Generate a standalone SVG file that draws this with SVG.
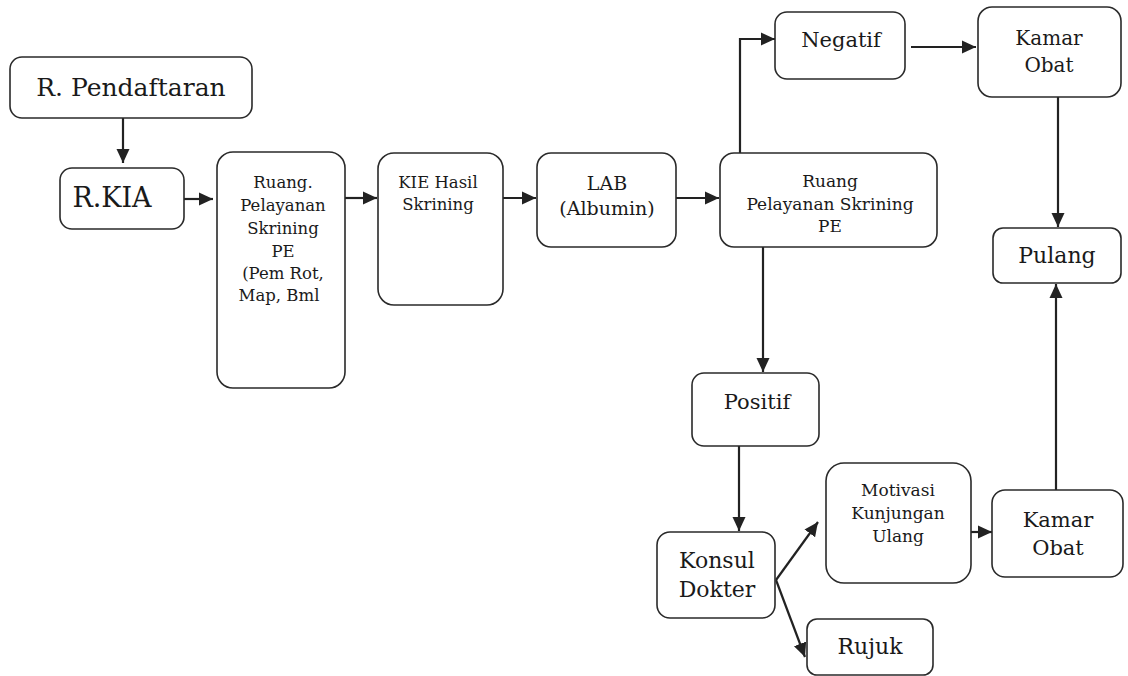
<svg xmlns="http://www.w3.org/2000/svg" width="1128" height="676" viewBox="0 0 1128 676">
<style>
.box{fill:#fff;stroke:#2a2a2a;stroke-width:1.6}
.t{font-family:"DejaVu Serif","Liberation Serif",serif;fill:#1a1a1a;text-anchor:middle}
.c{fill:none;stroke:#222;stroke-width:2.2}
</style>
<defs>
<marker id="ah" markerUnits="userSpaceOnUse" markerWidth="16" markerHeight="16" viewBox="0 0 16 16" refX="14" refY="8" orient="auto">
<path d="M0,1.5 L14,8 L0,14.5 Z" fill="#222"/>
</marker>
</defs>
<rect width="1128" height="676" fill="#fff"/>
<g id="connectors">
<line class="c" x1="123" y1="118" x2="123" y2="163" marker-end="url(#ah)"/>
<line class="c" x1="184" y1="199" x2="213" y2="199" marker-end="url(#ah)"/>
<line class="c" x1="345" y1="198" x2="377" y2="198" marker-end="url(#ah)"/>
<line class="c" x1="503" y1="198" x2="536" y2="198" marker-end="url(#ah)"/>
<line class="c" x1="676" y1="198" x2="719" y2="198" marker-end="url(#ah)"/>
<polyline class="c" points="740,153 740,39 775,39" marker-end="url(#ah)"/>
<line class="c" x1="911" y1="47" x2="976" y2="47" marker-end="url(#ah)"/>
<line class="c" x1="1058" y1="97" x2="1058" y2="227" marker-end="url(#ah)"/>
<line class="c" x1="1056" y1="490" x2="1056" y2="284" marker-end="url(#ah)"/>
<line class="c" x1="763" y1="247" x2="763" y2="372" marker-end="url(#ah)"/>
<line class="c" x1="739" y1="446" x2="739" y2="531" marker-end="url(#ah)"/>
<line class="c" x1="776" y1="580" x2="818" y2="522" marker-end="url(#ah)"/>
<line class="c" x1="776" y1="580" x2="805" y2="657" marker-end="url(#ah)"/>
<line class="c" x1="971" y1="532" x2="992" y2="532" marker-end="url(#ah)"/>
</g>
<g id="n-pendaftaran">
<rect class="box" x="10" y="57" width="242" height="61" rx="12"/>
<text class="t" x="131" y="96" font-size="25">R. Pendaftaran</text>
</g>
<g id="n-rkia">
<rect class="box" x="60" y="168" width="124" height="61" rx="12"/>
<text class="t" x="112" y="207" font-size="27">R.KIA</text>
</g>
<g id="n-ruang1">
<rect class="box" x="217" y="152" width="128" height="236" rx="16"/>
<text class="t" font-size="16.5"><tspan x="283" y="188">Ruang.</tspan><tspan x="283" y="211">Pelayanan</tspan><tspan x="283" y="234">Skrining</tspan><tspan x="283" y="257">PE</tspan><tspan x="283" y="279">(Pem Rot,</tspan><tspan x="279" y="301">Map, Bml</tspan></text>
</g>
<g id="n-kie">
<rect class="box" x="378" y="153" width="125" height="152" rx="16"/>
<text class="t" font-size="16.5"><tspan x="438" y="188">KIE Hasil</tspan><tspan x="438" y="210">Skrining</tspan></text>
</g>
<g id="n-lab">
<rect class="box" x="537" y="153" width="139" height="94" rx="14"/>
<text class="t" font-size="19"><tspan x="607" y="190">LAB</tspan><tspan x="607" y="215">(Albumin)</tspan></text>
</g>
<g id="n-ruang2">
<rect class="box" x="720" y="153" width="217" height="94" rx="14"/>
<text class="t" font-size="17"><tspan x="830" y="187">Ruang</tspan><tspan x="830" y="210">Pelayanan Skrining</tspan><tspan x="830" y="232">PE</tspan></text>
</g>
<g id="n-negatif">
<rect class="box" x="775" y="12" width="130" height="67" rx="12"/>
<text class="t" x="841" y="47" font-size="21">Negatif</text>
</g>
<g id="n-kamar1">
<rect class="box" x="978" y="7" width="143" height="90" rx="14"/>
<text class="t" font-size="20"><tspan x="1049" y="45">Kamar</tspan><tspan x="1049" y="72">Obat</tspan></text>
</g>
<g id="n-pulang">
<rect class="box" x="993" y="228" width="128" height="55" rx="10"/>
<text class="t" x="1057" y="263" font-size="22">Pulang</text>
</g>
<g id="n-positif">
<rect class="box" x="692" y="373" width="127" height="73" rx="12"/>
<text class="t" x="757" y="409" font-size="21">Positif</text>
</g>
<g id="n-konsul">
<rect class="box" x="657" y="532" width="118" height="86" rx="13"/>
<text class="t" font-size="22"><tspan x="717" y="568">Konsul</tspan><tspan x="717" y="597">Dokter</tspan></text>
</g>
<g id="n-motivasi">
<rect class="box" x="826" y="463" width="145" height="120" rx="18"/>
<text class="t" font-size="17"><tspan x="898" y="496">Motivasi</tspan><tspan x="898" y="519">Kunjungan</tspan><tspan x="898" y="542">Ulang</tspan></text>
</g>
<g id="n-kamar2">
<rect class="box" x="992" y="490" width="131" height="87" rx="13"/>
<text class="t" font-size="21"><tspan x="1058" y="527">Kamar</tspan><tspan x="1058" y="555">Obat</tspan></text>
</g>
<g id="n-rujuk">
<rect class="box" x="807" y="619" width="126" height="56" rx="10"/>
<text class="t" x="870" y="654" font-size="22">Rujuk</text>
</g>
</svg>
